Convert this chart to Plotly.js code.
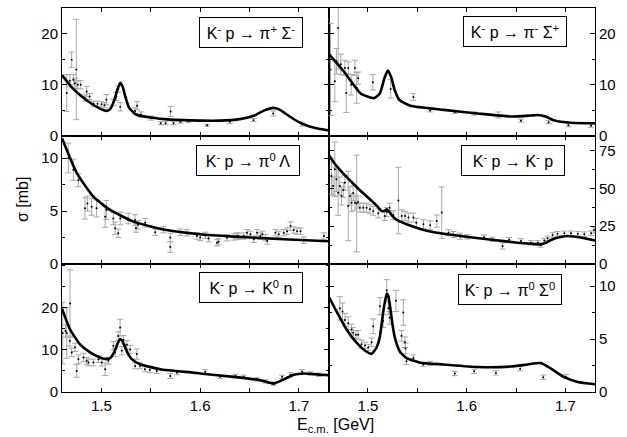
<!DOCTYPE html>
<html>
<head>
<meta charset="utf-8">
<script src="https://cdn.plot.ly/plotly-3.0.1.min.js"></script>
<style>html,body{margin:0;padding:0;background:#fff;}#chart{width:627px;height:437px;}</style>
</head>
<body>
<div id="chart"></div>
<script>
// ---------- Panel titles ----------
const panelTitles = [
  "K<sup>-</sup> p → π<sup>+</sup> Σ<sup>-</sup>",
  "K<sup>-</sup> p → π<sup>-</sup> Σ<sup>+</sup>",
  "K<sup>-</sup> p → π<sup>0</sup> Λ",
  "K<sup>-</sup> p → K<sup>-</sup> p",
  "K<sup>-</sup> p → K<sup>0</sup> n",
  "K<sup>-</sup> p → π<sup>0</sup> Σ<sup>0</sup>"
];
const xTickVals = [1.5, 1.55, 1.6, 1.65, 1.7];
const xTickText = ["1.5", "", "1.6", "", "1.7"];
const yTickVals = [[0,10,20],[0,10,20],[0,5,10],[0,25,50,75],[0,10,20],[0,5,10]];

// ---------- Panel 1: pi+ Sigma- ----------
const c1E = [1.46,1.47,1.48,1.49,1.50,1.505,1.509,1.513,1.516,1.519,1.5215,1.524,1.528,1.535,1.55,1.57,1.60,1.62,1.64,1.655,1.665,1.674,1.68,1.69,1.70,1.71,1.72,1.73];
const c1S = [11.9,9.5,7.7,6.3,5.2,4.9,5.3,7.0,9.0,10.4,9.6,7.8,5.5,4.2,3.6,3.2,3.0,3.0,3.3,4.0,5.0,5.5,5.2,3.9,2.7,1.9,1.4,1.1];
const d1E = [1.4648,1.4680,1.4698,1.4715,1.4730,1.4745,1.4760,1.4790,1.4830,1.4850,1.4880,1.4920,1.4960,1.5000,1.5030,1.5050,1.5120,1.5150,1.5170,1.5190,1.5340,1.5360,1.5400,1.5500,1.5600,1.5650,1.5700,1.5730,1.5800,1.5880,1.6070,1.6300,1.6540,1.6740,1.7030];
const d1S = [8.4,10.8,14.9,11.0,10.3,13.0,10.0,10.0,7.4,8.7,7.7,6.3,6.3,6.2,6.0,7.1,6.6,7.7,9.2,5.7,4.9,5.9,4.2,3.5,2.5,2.5,4.8,2.5,2.8,2.9,2.1,2.8,3.1,4.4,2.3];
const d1Err = [3.6,1.2,1.5,1.0,1.0,9.8,0.8,0.8,0.6,1.0,0.6,0.5,0.5,0.5,0.5,1.0,0.6,0.8,0.6,0.8,0.6,0.8,0.5,0.4,0.3,0.3,1.0,0.3,0.3,0.3,0.2,0.4,0.3,0.5,0.4];

// ---------- Panel 2: pi- Sigma+ ----------
const c2E = [1.46,1.4756,1.4925,1.506,1.512,1.5165,1.520,1.5235,1.527,1.532,1.543,1.577,1.611,1.645,1.665,1.672,1.680,1.688,1.706,1.73];
const c2S = [16.1,12.6,8.3,7.4,8.3,11.2,12.8,11.5,9.0,7.0,5.9,5.1,4.4,3.8,4.0,4.1,3.8,3.1,2.6,2.5];
const d2E = [1.4620,1.4664,1.4680,1.4698,1.4725,1.4766,1.4780,1.4800,1.4830,1.4867,1.4885,1.4900,1.5050,1.5230,1.5460,1.5630,1.5880,1.6076,1.6320,1.6550,1.6830,1.7030,1.7260];
const d2S = [13.0,10.7,14.6,21.1,14.0,13.3,8.4,13.3,10.0,13.3,9.4,11.3,10.5,9.2,7.6,5.0,4.7,4.4,4.1,3.0,2.7,2.1,2.0];
const d2Err = [9.0,4.0,2.5,8.0,2.0,1.5,3.8,1.2,2.0,1.5,3.0,1.2,1.5,1.8,0.7,0.3,0.3,0.3,0.6,0.3,0.3,0.3,0.3];

// ---------- Panel 3: pi0 Lambda ----------
const c3E = [1.46,1.4749,1.4918,1.5087,1.5324,1.566,1.60,1.634,1.668,1.7016,1.73];
const c3S = [11.86,8.6,6.35,5.1,4.0,3.2,2.8,2.58,2.42,2.26,2.15];
const d3E = [1.4664,1.4715,1.4765,1.4833,1.4857,1.4900,1.4950,1.5037,1.5050,1.5120,1.5138,1.5170,1.5190,1.5270,1.5340,1.5350,1.5370,1.5443,1.5544,1.5628,1.5697,1.5697,1.5798,1.5866,1.5967,1.6000,1.6052,1.6085,1.6170,1.6187,1.6272,1.6340,1.6373,1.6390,1.6440,1.6475,1.6509,1.6543,1.6576,1.6610,1.6630,1.6661,1.6678,1.6762,1.6796,1.6847,1.6880,1.6915,1.6948,1.6982,1.7016,1.7050,1.7253];
const d3S = [10.0,8.9,7.9,5.25,5.7,5.4,5.25,4.46,5.1,4.3,3.37,2.9,4.3,4.3,4.15,3.4,3.7,3.9,3.0,3.24,2.5,1.6,3.0,2.95,2.64,2.5,2.7,2.4,2.0,2.1,2.48,2.55,2.64,2.6,2.64,2.95,2.8,2.33,2.95,2.64,2.8,2.48,2.17,2.95,2.8,2.95,3.1,3.58,3.2,3.1,3.1,2.24,2.64];
const d3Err = [1.4,1.0,0.6,1.0,0.7,0.8,0.8,1.0,0.9,0.6,0.6,0.4,0.6,0.5,0.5,0.4,0.4,0.4,0.3,0.3,0.4,0.5,0.3,0.3,0.3,0.3,0.3,0.3,0.3,0.3,0.3,0.3,0.3,0.3,0.3,0.3,0.3,0.3,0.3,0.3,0.3,0.3,0.3,0.3,0.3,0.3,0.3,0.4,0.3,0.3,0.3,0.3,0.3];

// ---------- Panel 4: K- p ----------
const c4E = [1.46,1.465,1.47,1.48,1.49,1.50,1.505,1.51,1.514,1.517,1.519,1.521,1.525,1.53,1.539,1.55,1.5595,1.575,1.5933,1.61,1.6278,1.6516,1.665,1.6752,1.68,1.6854,1.695,1.7023,1.71,1.7192,1.731];
const c4S = [72.5,67.5,63.5,56.5,50.0,44.0,41.0,37.8,35.0,35.2,36.2,35.0,31.5,28.8,26.3,23.8,22.0,20.2,18.6,17.2,15.9,14.1,13.4,13.0,14.0,15.9,17.8,18.5,18.0,17.0,15.4];
const d4E = [1.4630,1.4646,1.4664,1.4680,1.4698,1.4715,1.4732,1.4750,1.4766,1.4800,1.4817,1.4834,1.4850,1.4868,1.4885,1.4900,1.4918,1.4952,1.4986,1.5020,1.5053,1.5104,1.5170,1.5190,1.5220,1.5257,1.5308,1.5342,1.5376,1.5410,1.5460,1.5490,1.5562,1.5630,1.5697,1.5747,1.5815,1.5866,1.5933,1.6008,1.6177,1.6262,1.6363,1.6430,1.6550,1.6650,1.6720,1.6752,1.6786,1.6820,1.6870,1.6920,1.6990,1.7057,1.7125,1.7192,1.7260,1.7290];
const d4S = [58.2,51.6,62.7,56.0,47.2,51.6,45.0,49.0,53.8,38.4,45.0,40.6,47.0,40.6,40.0,41.0,37.3,37.3,37.3,36.2,35.0,33.5,31.8,34.4,37.3,32.3,42.0,31.8,31.8,30.7,30.7,27.3,26.3,25.6,28.4,34.0,20.7,19.5,18.4,18.0,17.7,16.3,11.9,16.0,15.2,14.1,14.0,12.6,15.5,17.0,19.2,20.0,20.3,20.3,20.0,19.7,20.3,22.5];
const d4Err = [12,6,18,8,15,6,6,5,5,23,6,6,5,5,32,4,3,3,3,3,3,3,3,3,3,3,22,4,3,3,3,3,3,3,4,17,2,2,2,1.5,1.5,1.5,2,1.5,1.5,1.5,1.5,1.5,1.5,1.5,1.5,1.5,1.5,1.5,1.5,1.5,1.5,2];

// ---------- Panel 5: K0 n ----------
const c5E = [1.46,1.4681,1.4783,1.4884,1.4986,1.5053,1.5095,1.5135,1.5165,1.519,1.5215,1.524,1.5275,1.5307,1.5392,1.5595,1.5933,1.60,1.634,1.661,1.6745,1.6847,1.6948,1.705,1.722,1.73];
const c5S = [19.8,14.9,11.3,9.4,8.2,7.8,8.2,9.8,11.6,12.6,12.0,10.6,8.8,7.8,6.6,5.4,4.6,4.4,3.6,2.8,2.0,3.0,4.1,4.4,4.1,4.0];
const d5E = [1.4607,1.4635,1.4648,1.4680,1.4681,1.4698,1.4732,1.4749,1.4766,1.4817,1.4850,1.4868,1.4918,1.4969,1.5003,1.5037,1.5070,1.5120,1.5138,1.5170,1.5189,1.5206,1.5223,1.5257,1.5290,1.5340,1.5358,1.5390,1.5440,1.5490,1.5560,1.5697,1.5765,1.6052,1.6204,1.6357,1.6441,1.6576,1.6661,1.6745,1.6830,1.6914,1.7033,1.7118,1.7202];
const d5S = [14.0,14.5,14.0,12.1,21.0,9.4,10.6,5.0,7.8,8.2,7.4,7.0,7.0,7.8,7.0,5.4,7.4,11.0,9.4,13.3,15.3,9.8,12.4,11.2,10.1,6.2,9.0,6.2,5.4,5.2,5.0,3.8,4.6,4.8,3.6,3.8,3.6,3.0,2.5,2.0,3.6,4.1,4.8,4.4,4.1];
const d5Err = [7.3,1.5,6.0,1.2,8.0,1.0,1.0,1.5,1.0,1.0,0.8,0.8,0.8,0.8,0.8,1.5,0.8,1.0,1.0,1.0,2.0,1.0,1.0,1.0,1.0,0.7,1.2,0.7,0.6,0.6,0.6,0.6,0.5,0.5,0.4,0.4,0.4,0.4,0.4,0.4,0.4,0.5,0.5,0.4,0.4];

// ---------- Panel 6: pi0 Sigma0 ----------
const c6E = [1.46,1.4681,1.4783,1.4884,1.4986,1.5037,1.5087,1.512,1.5155,1.519,1.5205,1.5225,1.5248,1.5273,1.5324,1.5392,1.5527,1.5764,1.611,1.6447,1.6617,1.6752,1.6854,1.699,1.7125,1.731];
const c6S = [9.06,7.6,5.9,4.66,3.8,3.6,4.2,5.2,7.6,9.3,9.1,8.0,6.4,5.1,3.8,3.2,2.77,2.6,2.36,2.4,2.6,2.73,2.2,1.4,0.94,0.72];
const d6E = [1.4715,1.4742,1.4766,1.4800,1.4834,1.4850,1.4877,1.4900,1.4935,1.4970,1.5003,1.5037,1.5053,1.5121,1.5155,1.5190,1.5206,1.5220,1.5283,1.5340,1.5358,1.5375,1.5380,1.5390,1.5460,1.5560,1.5630,1.5880,1.6076,1.6296,1.6542,1.6776,1.7006];
const d6S = [7.9,7.6,6.8,6.5,5.9,5.6,5.4,5.4,4.5,4.4,4.2,4.7,6.2,8.1,6.7,9.6,7.9,7.0,8.6,5.3,7.5,4.7,4.1,2.9,3.2,2.6,2.7,1.74,1.95,1.8,2.2,1.4,1.45];
const d6Err = [1.1,0.8,0.6,0.6,0.5,0.5,0.4,0.4,0.4,0.3,0.3,0.4,0.7,0.8,0.6,1.0,0.6,0.6,1.0,0.5,1.2,0.5,0.5,0.3,0.3,0.2,0.2,0.2,0.2,0.2,0.2,0.2,0.2];

const curves = [[c1E,c1S],[c2E,c2S],[c3E,c3S],[c4E,c4S],[c5E,c5S],[c6E,c6S]];
const dataSets = [[d1E,d1S,d1Err],[d2E,d2S,d2Err],[d3E,d3S,d3Err],[d4E,d4S,d4Err],[d5E,d5S,d5Err],[d6E,d6S,d6Err]];
const yRanges = [[0,25],[0,25],[0,12.08],[0,84.7],[0,30.4],[0,12.08]];
const yMinor = [5,5,2.5,12.5,5,2.5];

const traces = [];
for (let i = 0; i < 6; i++) {
  const ax = i === 0 ? '' : String(i + 1);
  const d = dataSets[i];
  traces.push({
    x: d[0], y: d[1], type: 'scatter', mode: 'markers',
    xaxis: 'x' + ax, yaxis: 'y' + ax,
    marker: {color: '#000', size: 2},
    error_y: {type: 'data', array: d[2], visible: true, color: '#a8a8a8', thickness: 1, width: 3},
    hoverinfo: 'skip', showlegend: false
  });
  traces.push({
    x: curves[i][0], y: curves[i][1], type: 'scatter', mode: 'lines',
    xaxis: 'x' + ax, yaxis: 'y' + ax,
    line: {color: '#000', width: 2.6, shape: 'spline', smoothing: 0.5},
    hoverinfo: 'skip', showlegend: false
  });
}

const tickFont = {family: 'Liberation Sans, Arial, sans-serif', size: 15, color: '#000'};
const layout = {
  width: 627, height: 437,
  margin: {l: 62, r: 32, t: 8, b: 45},
  paper_bgcolor: '#fff', plot_bgcolor: '#fff',
  showlegend: false,
  annotations: []
};
const xDomains = [[0,0.5],[0.5,1]];
const yDomains = [[2/3,1],[1/3,2/3],[0,1/3]];
for (let i = 0; i < 6; i++) {
  const col = i % 2, row = Math.floor(i / 2);
  const ax = i === 0 ? '' : String(i + 1);
  const bottom = row === 2;
  layout['xaxis' + ax] = {
    domain: xDomains[col], anchor: 'y' + ax, range: [1.46, 1.73],
    tickvals: xTickVals, ticktext: xTickText,
    showticklabels: bottom, ticks: 'inside', ticklen: 4, tickcolor: '#000',
    showline: true, linecolor: '#000', linewidth: 1, mirror: 'ticks',
    showgrid: false, zeroline: false, tickfont: tickFont
  };
  layout['yaxis' + ax] = {
    domain: yDomains[row], anchor: 'x' + ax, range: yRanges[i],
    tickvals: yTickVals[i], side: col === 0 ? 'left' : 'right',
    ticks: 'inside', ticklen: 5, tickcolor: '#000',
    minor: {dtick: yMinor[i], tick0: 0, ticks: 'inside', ticklen: 3, tickcolor: '#000'},
    showline: true, linecolor: '#000', linewidth: 1, mirror: 'ticks',
    showgrid: false, zeroline: false, tickfont: tickFont
  };
}
const boxPos = [[0.3546,0.936],[0.8496,0.940],[0.349,0.604],[0.847,0.603],[0.3537,0.272],[0.8396,0.268]];
for (let i = 0; i < 6; i++) {
  layout.annotations.push({
    xref: 'paper', yref: 'paper', x: boxPos[i][0], y: boxPos[i][1],
    xanchor: 'center', yanchor: 'middle', showarrow: false,
    text: panelTitles[i], font: {family: 'Liberation Sans, Arial, sans-serif', size: 16, color: '#000'},
    bordercolor: '#000', borderwidth: 1, borderpad: 1, bgcolor: '#fff',
    width: 100, height: 27
  });
}
layout.annotations.push({
  xref: 'paper', yref: 'paper', x: -0.075, y: 0.5, xanchor: 'center', yanchor: 'middle',
  showarrow: false, textangle: -90, text: 'σ [mb]',
  font: {family: 'Liberation Sans, Arial, sans-serif', size: 16, color: '#000'}
});
layout.annotations.push({
  xref: 'paper', yref: 'paper', x: 0.514, y: -0.086, xanchor: 'center', yanchor: 'middle',
  showarrow: false, text: 'E<sub>c.m.</sub> [GeV]',
  font: {family: 'Liberation Sans, Arial, sans-serif', size: 16, color: '#000'}
});

Plotly.newPlot('chart', traces, layout, {staticPlot: true, displayModeBar: false});
</script>
</body>
</html>
